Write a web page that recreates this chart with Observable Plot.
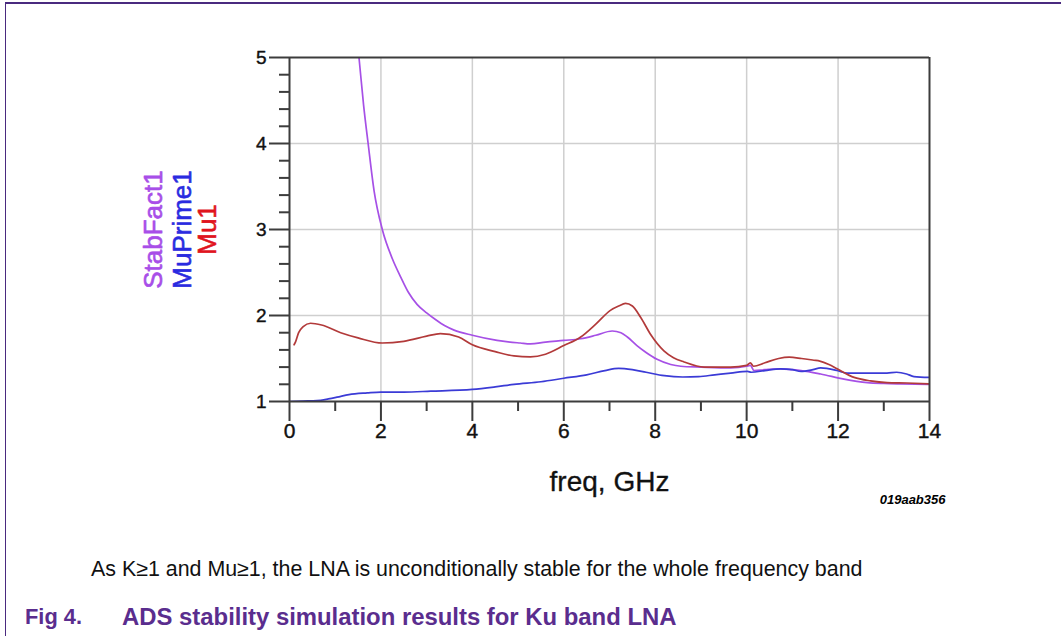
<!DOCTYPE html>
<html>
<head>
<meta charset="utf-8">
<script src="https://cdn.jsdelivr.net/npm/d3@7"></script>
<script src="https://cdn.jsdelivr.net/npm/@observablehq/plot@0.6"></script>
<style>
html,body{margin:0;padding:0;background:#fff;}
body{width:1061px;height:636px;position:relative;overflow:hidden;font-family:"Liberation Sans",Arial,sans-serif;}
#frame{position:absolute;left:5px;top:2px;right:-2px;bottom:-2px;border-top:2px solid #4a2a7f;border-left:1px solid #4a2a7f;pointer-events:none;}
#chart{position:absolute;left:0;top:0;}
.cap{position:absolute;white-space:nowrap;line-height:1;}
#note{left:91px;color:#111;font-size:18px;}
#fig{left:25px;color:#5a2d8e;font-weight:bold;font-size:20px;}
#ttl{left:122px;color:#5a2d8e;font-weight:bold;font-size:20px;}
</style>
</head>
<body>
<div id="chart"></div>
<div id="frame"></div>
<div id="note" class="cap"></div>
<div id="fig" class="cap"></div>
<div id="ttl" class="cap"></div>
<script>
// ---- data ----
const seriesNames = ["StabFact1", "MuPrime1", "Mu1"];
const lineColors = ["#a650e6", "#3b3bd6", "#b23a3a"];
const labelColors = ["#a84ee8", "#2a2ae0", "#e0141e"];

const freqTicks = [0, 2, 4, 6, 8, 10, 12, 14];
const freqMinor = [1, 3, 5, 7, 9, 11, 13];
const valueTicks = [1, 2, 3, 4, 5];
const valueMinor = [1.2, 1.4, 1.6, 1.8, 2.2, 2.4, 2.6, 2.8, 3.2, 3.4, 3.6, 3.8, 4.2, 4.4, 4.6, 4.8];
const gridFreq = [2, 4, 6, 8, 10, 12];
const gridValue = [2, 3, 4];

const stabFreq = [1.45, 1.52, 1.62, 1.72, 1.85, 2.03, 2.25, 2.43, 2.6, 2.79, 3.0, 3.2, 3.4, 3.6, 4.0, 4.54, 5.05, 5.27, 5.6, 6.0, 6.37, 6.7, 7.06, 7.25, 7.39, 7.6, 7.8, 8.04, 8.34, 8.56, 9.0, 9.65, 10.0, 10.08, 10.16, 10.4, 10.74, 11.0, 11.19, 11.62, 12.13, 12.64, 13.0, 13.37, 14.0];
const stabVal  = [5.35, 5.0, 4.45, 4.0, 3.45, 3.0, 2.66, 2.45, 2.27, 2.13, 2.03, 1.95, 1.88, 1.83, 1.77, 1.71, 1.68, 1.67, 1.69, 1.71, 1.73, 1.77, 1.82, 1.80, 1.75, 1.65, 1.57, 1.49, 1.43, 1.41, 1.40, 1.39, 1.41, 1.42, 1.36, 1.37, 1.38, 1.37, 1.36, 1.32, 1.26, 1.22, 1.21, 1.205, 1.20];

const muPrimeFreq = [0, 0.3, 0.6, 0.85, 1.04, 1.3, 1.7, 2.0, 2.5, 3.09, 4.0, 4.5, 4.91, 5.5, 6.0, 6.5, 6.9, 7.2, 7.5, 7.8, 8.2, 8.6, 8.95, 9.3, 9.65, 10.02, 10.1, 10.4, 10.74, 11.0, 11.19, 11.45, 11.62, 11.98, 12.2, 12.6, 13.07, 13.28, 13.5, 13.66, 14.0];
const muPrimeVal  = [1.0, 1.005, 1.01, 1.03, 1.05, 1.08, 1.10, 1.11, 1.11, 1.12, 1.14, 1.17, 1.20, 1.23, 1.27, 1.31, 1.36, 1.385, 1.37, 1.34, 1.30, 1.285, 1.29, 1.31, 1.33, 1.35, 1.34, 1.36, 1.38, 1.37, 1.35, 1.37, 1.39, 1.36, 1.33, 1.33, 1.33, 1.34, 1.32, 1.29, 1.28];

const muFreq = [0.1, 0.13, 0.2, 0.3, 0.46, 0.7, 1.12, 1.5, 2.03, 2.5, 3.0, 3.3, 3.7, 4.0, 4.5, 4.91, 5.27, 5.6, 6.0, 6.37, 6.7, 7.02, 7.2, 7.35, 7.5, 7.68, 7.9, 8.19, 8.4, 8.63, 9.07, 9.65, 10.0, 10.08, 10.15, 10.4, 10.7, 10.93, 11.2, 11.47, 11.6, 11.8, 11.98, 12.35, 12.71, 13.07, 13.5, 14.0];
const muVal  = [1.66, 1.69, 1.80, 1.87, 1.91, 1.89, 1.80, 1.74, 1.68, 1.70, 1.76, 1.79, 1.75, 1.66, 1.58, 1.53, 1.52, 1.55, 1.65, 1.75, 1.90, 2.06, 2.11, 2.14, 2.11, 1.98, 1.78, 1.59, 1.51, 1.46, 1.40, 1.40, 1.42, 1.45, 1.41, 1.45, 1.50, 1.515, 1.50, 1.48, 1.47, 1.43, 1.38, 1.28, 1.24, 1.22, 1.215, 1.205];

const noteText = "As K\u22651 and Mu\u22651, the LNA is unconditionally stable for the whole frequency band";
const figText = "Fig 4.";
const titleText = "ADS stability simulation results for Ku band LNA";
const xLabel = "freq, GHz";
const codeLabel = "019aab356";

// ---- build table ----
const rows = [];
[[stabFreq, stabVal], [muPrimeFreq, muPrimeVal], [muFreq, muVal]].forEach(([fs, vs], i) => {
  fs.forEach((f, j) => rows.push({series: seriesNames[i], freq: f, value: vs[j]}));
});

const axisColor = "#3c3c3c";
const textColor = "#111";
const legendDx = [-136, -107, -82];

const chart = Plot.plot({
  width: 1061,
  height: 540,
  marginLeft: 289,
  marginRight: 132,
  marginTop: 57,
  marginBottom: 139,
  style: {fontFamily: "'Liberation Sans', Arial, sans-serif", background: "transparent", color: textColor},
  x: {domain: [0, 14]},
  y: {domain: [1, 5]},
  color: {domain: seriesNames, range: lineColors},
  marks: [
    Plot.gridX(gridFreq, {stroke: "#cfcfcf", strokeOpacity: 1, strokeWidth: 1.5}),
    Plot.gridY(gridValue, {stroke: "#cfcfcf", strokeOpacity: 1, strokeWidth: 1.5}),
    Plot.line(rows, {x: "freq", y: "value", z: "series", stroke: "series", strokeWidth: 1.7, curve: "monotone-x", clip: true}),
    Plot.ruleY([5], {stroke: axisColor, strokeWidth: 2}),
    Plot.ruleX([14], {stroke: axisColor, strokeWidth: 2}),
    Plot.ruleX([0], {stroke: axisColor, strokeWidth: 2}),
    Plot.ruleY([1], {stroke: axisColor, strokeWidth: 2}),
    Plot.axisY(valueTicks, {tickSize: 20, text: null, stroke: axisColor, strokeWidth: 2, label: null}),
    Plot.axisY(valueMinor, {tickSize: 10, text: null, stroke: axisColor, strokeWidth: 2, label: null}),
    Plot.axisX(freqTicks, {tickSize: 20, text: null, stroke: axisColor, strokeWidth: 2, label: null}),
    Plot.axisX(freqMinor, {tickSize: 10, text: null, stroke: axisColor, strokeWidth: 2, label: null}),
    Plot.text(valueTicks, {y: d => d, text: d => String(d), frameAnchor: "left", dx: -23, textAnchor: "end", fontSize: 19, fill: textColor, stroke: textColor, strokeWidth: 0.4}),
    Plot.text(freqTicks, {x: d => d, text: d => String(d), frameAnchor: "bottom", dy: 36, fontSize: 21, fill: textColor, stroke: textColor, strokeWidth: 0.4}),
    ...seriesNames.map((name, i) => Plot.text([name], {
      text: d => d, frameAnchor: "left", dx: legendDx[i], rotate: -90,
      fontSize: 26, fill: labelColors[i], stroke: labelColors[i], strokeWidth: 0.6,
      textAnchor: "middle", lineAnchor: "middle"
    })),
    Plot.text([xLabel], {text: d => d, frameAnchor: "bottom", dy: 89, fontSize: 28, fill: textColor, stroke: textColor, strokeWidth: 0.3}),
    Plot.text([codeLabel], {text: d => d, frameAnchor: "bottom-right", dx: 16, dy: 102, textAnchor: "end", fontSize: 13, fontWeight: "bold", fontStyle: "italic", fill: "#000"})
  ]
});
document.getElementById("chart").appendChild(chart);

function place(id, text, targetWidth, centerY) {
  const el = document.getElementById(id);
  el.textContent = text;
  const w = el.getBoundingClientRect().width;
  const fs = parseFloat(getComputedStyle(el).fontSize);
  const nfs = fs * targetWidth / w;
  el.style.fontSize = nfs + "px";
  el.style.top = (centerY - nfs / 2) + "px";
}
place("note", noteText, 772, 570);
place("fig", figText, 57, 617);
place("ttl", titleText, 555, 617);
</script>
</body>
</html>
